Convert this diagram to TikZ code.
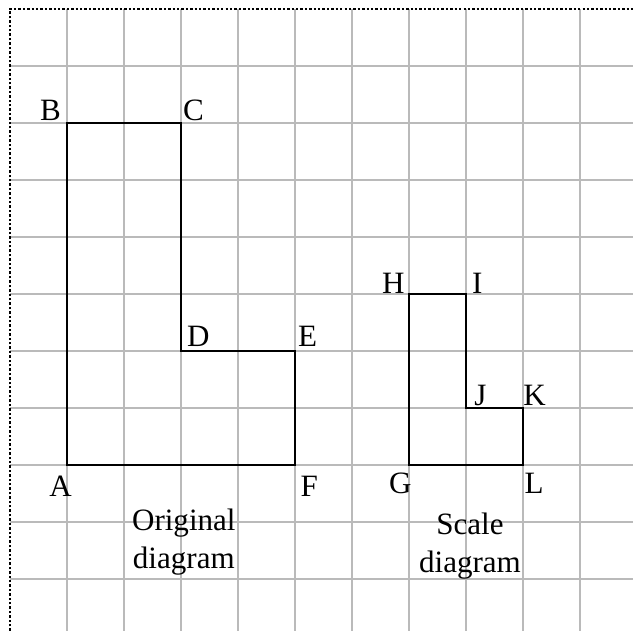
\documentclass[tikz,border=0pt]{standalone}
\usepackage{fontspec}
\setmainfont{Liberation Serif}
\usetikzlibrary{positioning}

\begin{document}
\begin{tikzpicture}[
    gridline/.style={draw=black!27, line width=1pt},
    frame/.style={draw, densely dotted, line width=1.2pt},
    outline/.style={draw, line width=1.1pt, line join=miter},
    corner/.style={inner sep=0pt, font=\fontsize{15.5}{18}\selectfont},
    caption/.style={align=center, inner sep=0pt, font=\fontsize{15.5}{19}\selectfont}
  ]
    \useasboundingbox (-0.175,-10.91) rectangle (10.93,0.158);

    % grid
    \foreach \i in {1,...,10} {
      \draw[gridline] (\i,0) -- (\i,-10.91);
      \draw[gridline] (0,-\i) -- (10.93,-\i);
    }
    \draw[frame] (0,-10.91) -- (0,0) -- (10.93,0);

    % original shape
    \coordinate (A) at (1,-8);
    \coordinate (B) at (1,-2);
    \coordinate (C) at (3,-2);
    \coordinate (D) at (3,-6);
    \coordinate (E) at (5,-6);
    \coordinate (F) at (5,-8);
    \draw[outline] (A) -- (B) -- (C) -- (D) -- (E) -- (F) -- cycle;

    % scale shape
    \coordinate (G) at (7,-8);
    \coordinate (H) at (7,-5);
    \coordinate (I) at (8,-5);
    \coordinate (J) at (8,-7);
    \coordinate (K) at (9,-7);
    \coordinate (L) at (9,-8);
    \draw[outline] (G) -- (H) -- (I) -- (J) -- (K) -- (L) -- cycle;

    % corner labels
    \node[corner, anchor=north east, xshift=0.09cm, yshift=-0.19cm] (labA) at (A) {A};
    \node[corner, anchor=south east, xshift=-0.1cm, yshift=0.03cm] (labB) at (B) {B};
    \node[corner, anchor=south west, xshift=0.03cm, yshift=0.03cm] (labC) at (C) {C};
    \node[corner, anchor=south west, xshift=0.1cm, yshift=0.07cm] (labD) at (D) {D};
    \node[corner, anchor=south west, xshift=0.05cm, yshift=0.07cm] (labE) at (E) {E};
    \node[corner, anchor=north west, xshift=0.09cm, yshift=-0.19cm] (labF) at (F) {F};
    \node[corner, anchor=north east, xshift=0.05cm, yshift=-0.14cm] (labG) at (G) {G};
    \node[corner, anchor=south east, xshift=-0.07cm, yshift=0cm] (labH) at (H) {H};
    \node[corner, anchor=south west, xshift=0.1cm, yshift=0cm] (labI) at (I) {I};
    \node[corner, anchor=south west, xshift=0.14cm, yshift=0.03cm] (labJ) at (J) {J};
    \node[corner, anchor=south west, xshift=0cm, yshift=0.03cm] (labK) at (K) {K};
    \node[corner, anchor=north west, xshift=0.02cm, yshift=-0.14cm] (labL) at (L) {L};

    % captions
    \node[caption] (orig) at (3.05,-9.36) {Original\\diagram};
    \node[caption] (scale) at (8.07,-9.43) {Scale\\diagram};
\end{tikzpicture}
\end{document}
